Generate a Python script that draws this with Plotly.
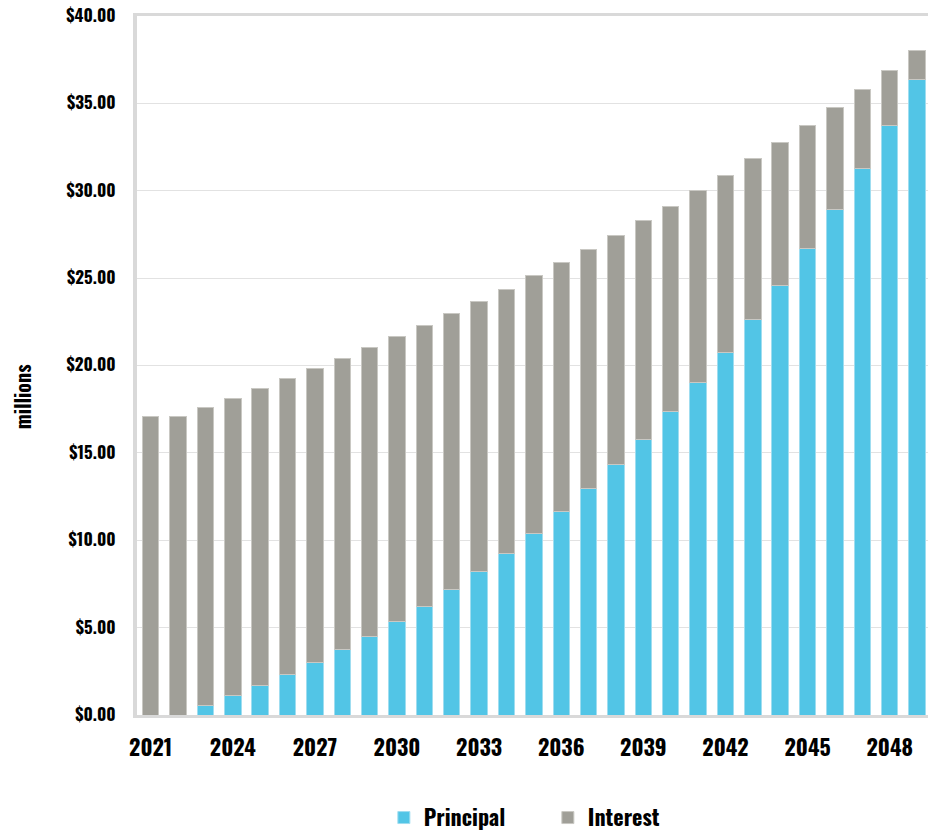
import plotly.graph_objects as go

# Debt service schedule, in millions of dollars
years = list(range(2021, 2050))
principal = [0.00, 0.00, 0.53, 1.09, 1.70, 2.33, 2.99, 3.74, 4.48, 5.36,
             6.23, 7.19, 8.20, 9.27, 10.41, 11.65, 12.97, 14.34, 15.79, 17.34,
             19.01, 20.76, 22.64, 24.59, 26.70, 28.94, 31.27, 33.73, 36.34]
interest = [17.09, 17.09, 17.09, 17.03, 16.99, 16.91, 16.84, 16.67, 16.55, 16.32,
            16.06, 15.79, 15.48, 15.10, 14.72, 14.23, 13.67, 13.12, 12.49, 11.78,
            10.99, 10.13, 9.19, 8.18, 7.06, 5.81, 4.54, 3.17, 1.68]
x_ticks = list(range(2021, 2050, 3))
y_ticks = list(range(0, 45, 5))
y_labels = [f"${v:.2f}" for v in y_ticks]

FONT = "Oswald, Roboto Condensed, sans-serif"
BLUE = "#52C5E6"
GRAY = "#A09F98"

fig = go.Figure()
fig.add_trace(go.Bar(
    x=years, y=principal, name="Principal",
    marker=dict(color=BLUE, line=dict(color="#9FDDF0", width=1)),
))
fig.add_trace(go.Bar(
    x=years, y=interest, name="Interest",
    marker=dict(color=GRAY, line=dict(color="#C9C8C3", width=1)),
))

fig.update_layout(
    width=928, height=833,
    barmode="stack", bargap=0.4,
    plot_bgcolor="white", paper_bgcolor="white",
    margin=dict(l=137, r=0, t=16, b=118, autoexpand=False),
    font=dict(family=FONT, color="black", weight="bold"),
    showlegend=True,
    legend=dict(
        orientation="h", x=0.5194, xanchor="center", y=-0.147, yanchor="middle",
        font=dict(family=FONT, size=22, color="black", weight="bold"),
        traceorder="normal", entrywidth=119, entrywidthmode="pixels",
    ),
    annotations=[dict(
        text="millions", textangle=-90, showarrow=False,
        xref="paper", yref="paper", x=-0.145, y=0.455,
        xanchor="center", yanchor="middle",
        font=dict(family=FONT, size=20, color="black", weight="bold"),
    )],
)

fig.update_xaxes(
    range=[2020.5, 2049.4], tickmode="array", tickvals=x_ticks,
    ticktext=[str(v) for v in x_ticks],
    showgrid=False, showline=True, linecolor="#D9D9D9", linewidth=3, mirror=True,
    ticks="", ticklabelstandoff=12,
    tickfont=dict(family=FONT, size=22, color="black", weight="bold"),
)
fig.update_yaxes(
    range=[0, 40], tickmode="array", tickvals=y_ticks, ticktext=y_labels,
    showgrid=True, gridcolor="#E2E2E2", gridwidth=1,
    showline=True, linecolor="#D9D9D9", linewidth=4,
    zeroline=False, ticks="", ticklabelstandoff=14,
    tickfont=dict(family=FONT, size=17, color="black", weight="bold"),
)

fig.write_html("out.html")
